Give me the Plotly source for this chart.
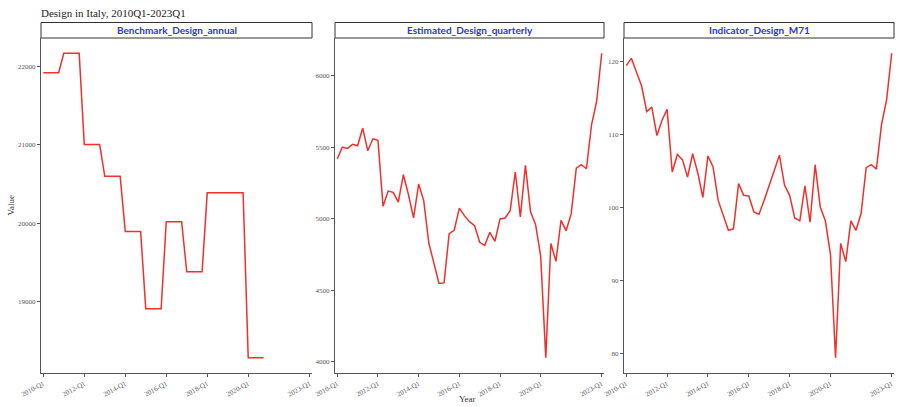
import plotly.graph_objects as go

# ---- data ----
tick_idx = [0, 8, 16, 24, 32, 40, 52]
tick_text = ["2010-Q1", "2012-Q1", "2014-Q1", "2016-Q1", "2018-Q1", "2020-Q1", "2023-Q1"]

benchmark_annual = [
    21923, 21923, 21923, 21923,
    22171, 22171, 22171, 22171,
    21005, 21005, 21005, 21005,
    20600, 20600, 20600, 20600,
    19893, 19893, 19893, 19893,
    18907, 18907, 18907, 18907,
    20020, 20020, 20020, 20020,
    19379, 19379, 19379, 19379,
    20388, 20388, 20388, 20388,
    20388, 20388, 20388, 20388,
    18282, 18282, 18282, 18282,
]

estimated_quarterly = [
    5419, 5500, 5491, 5519, 5509, 5633, 5474, 5558, 5547, 5086,
    5193, 5184, 5116, 5307, 5167, 5005, 5242, 5126, 4830, 4691,
    4547, 4551, 4895, 4919, 5074, 5021, 4979, 4951, 4835, 4814,
    4905, 4842, 4998, 5005, 5056, 5326, 5012, 5372, 5048, 4958,
    4737, 4028, 4826, 4702, 4988, 4916, 5035, 5353, 5377, 5349,
    5656, 5819, 6156,
]

indicator_m71 = [
    119.5, 120.5, 118.6, 116.7, 113.2, 113.8, 109.9, 112.0, 113.5, 104.9,
    107.3, 106.6, 104.2, 107.4, 104.8, 101.4, 107.1, 105.6, 101.0, 98.9,
    96.9, 97.1, 103.3, 101.7, 101.6, 99.4, 99.1, 101.0, 103.1, 105.1,
    107.2, 103.1, 101.7, 98.6, 98.2, 103.0, 98.0, 105.9, 100.1, 98.2,
    93.6, 79.4, 95.1, 92.6, 98.2, 96.9, 99.2, 105.5, 105.9, 105.3,
    111.4, 114.8, 121.2,
]

panel_titles = ["Benchmark_Design_annual", "Estimated_Design_quarterly", "Indicator_Design_M71"]
series = [benchmark_annual, estimated_quarterly, indicator_m71]
y_ticks = [
    [19000, 20000, 21000, 22000],
    [4000, 4500, 5000, 5500, 6000],
    [80, 90, 100, 110, 120],
]

# ---- layout geometry ----
W, H = 901, 407
ML, MR, MT, MB = 41, 7, 38, 34
pw = W - ML - MR
ph = H - MT - MB
domains = [
    [0.0, (312 - ML) / pw],
    [(335 - ML) / pw, (604 - ML) / pw],
    [(624 - ML) / pw, 1.0],
]

fig = go.Figure()
tick_font = dict(family="Liberation Serif, serif", size=7, color="#555555")
axis_color = "#555555"

for k, (vals, title) in enumerate(zip(series, panel_titles)):
    xa = "x" if k == 0 else f"x{k+1}"
    ya = "y" if k == 0 else f"y{k+1}"
    fig.add_trace(go.Scatter(
        x=list(range(len(vals))), y=vals, mode="lines",
        line=dict(color="#f0302a", width=1.5),
        xaxis=xa, yaxis=ya, showlegend=False, hoverinfo="skip",
    ))
    lo, hi = min(vals), max(vals)
    pad = (hi - lo) * 0.05
    xkey = "xaxis" if k == 0 else f"xaxis{k+1}"
    ykey = "yaxis" if k == 0 else f"yaxis{k+1}"
    fig.update_layout(**{
        xkey: dict(
            domain=domains[k], range=[-0.45, 52.45], anchor=ya, automargin=False,
            tickvals=tick_idx, ticktext=tick_text, tickangle=-28,
            showgrid=False, zeroline=False, showline=True, linecolor=axis_color,
            linewidth=1.2, ticks="outside", ticklen=3, tickcolor=axis_color,
            tickfont=tick_font,
        ),
        ykey: dict(
            domain=[0, 1], range=[lo - pad, hi + pad], anchor=xa, automargin=False,
            tickvals=y_ticks[k], tickformat="d", showgrid=False, zeroline=False,
            showline=True, linecolor=axis_color, linewidth=1.2, ticks="outside",
            ticklen=3, tickcolor=axis_color, tickfont=tick_font,
        ),
    })
    # strip
    strip_h = 15.5 / ph
    fig.add_shape(type="rect", xref="paper", yref="paper",
                  x0=domains[k][0], x1=domains[k][1], y0=1.0, y1=1.0 + strip_h,
                  line=dict(color="#333333", width=1), fillcolor="white")
    fig.add_annotation(xref="paper", yref="paper",
                       x=(domains[k][0] + domains[k][1]) / 2, y=1.0 + strip_h / 2,
                       text=f"<b>{title}</b>", showarrow=False,
                       font=dict(family="Lato, sans-serif", size=10, color="#2b35e0"),
                       xanchor="center", yanchor="middle")

fig.add_annotation(xref="paper", yref="paper", x=(467.5 - ML) / pw, y=-(399 - (H - MB)) / ph,
                   text="Year", showarrow=False, xanchor="center", yanchor="middle",
                   font=dict(family="Liberation Serif, serif", size=9, color="#333333"))
fig.add_annotation(xref="paper", yref="paper", x=-(ML - 10) / pw, y=0.5,
                   text="Value", showarrow=False, textangle=-90, xanchor="center", yanchor="middle",
                   font=dict(family="Liberation Serif, serif", size=9, color="#333333"))

fig.update_layout(
    width=W, height=H,
    margin=dict(l=ML, r=MR, t=MT, b=MB, autoexpand=False),
    paper_bgcolor="white", plot_bgcolor="white",
    title=dict(text="Design in Italy, 2010Q1-2023Q1", x=41 / W, xanchor="left",
               y=1 - 13 / H, yanchor="middle",
               font=dict(family="Liberation Serif, serif", size=11, color="#222222")),
)

fig.write_html(
    "out.html",
    config={"displayModeBar": False},
    post_script="document.body.style.margin='0';document.body.style.padding='0';"
                "document.body.style.overflow='hidden';",
)
